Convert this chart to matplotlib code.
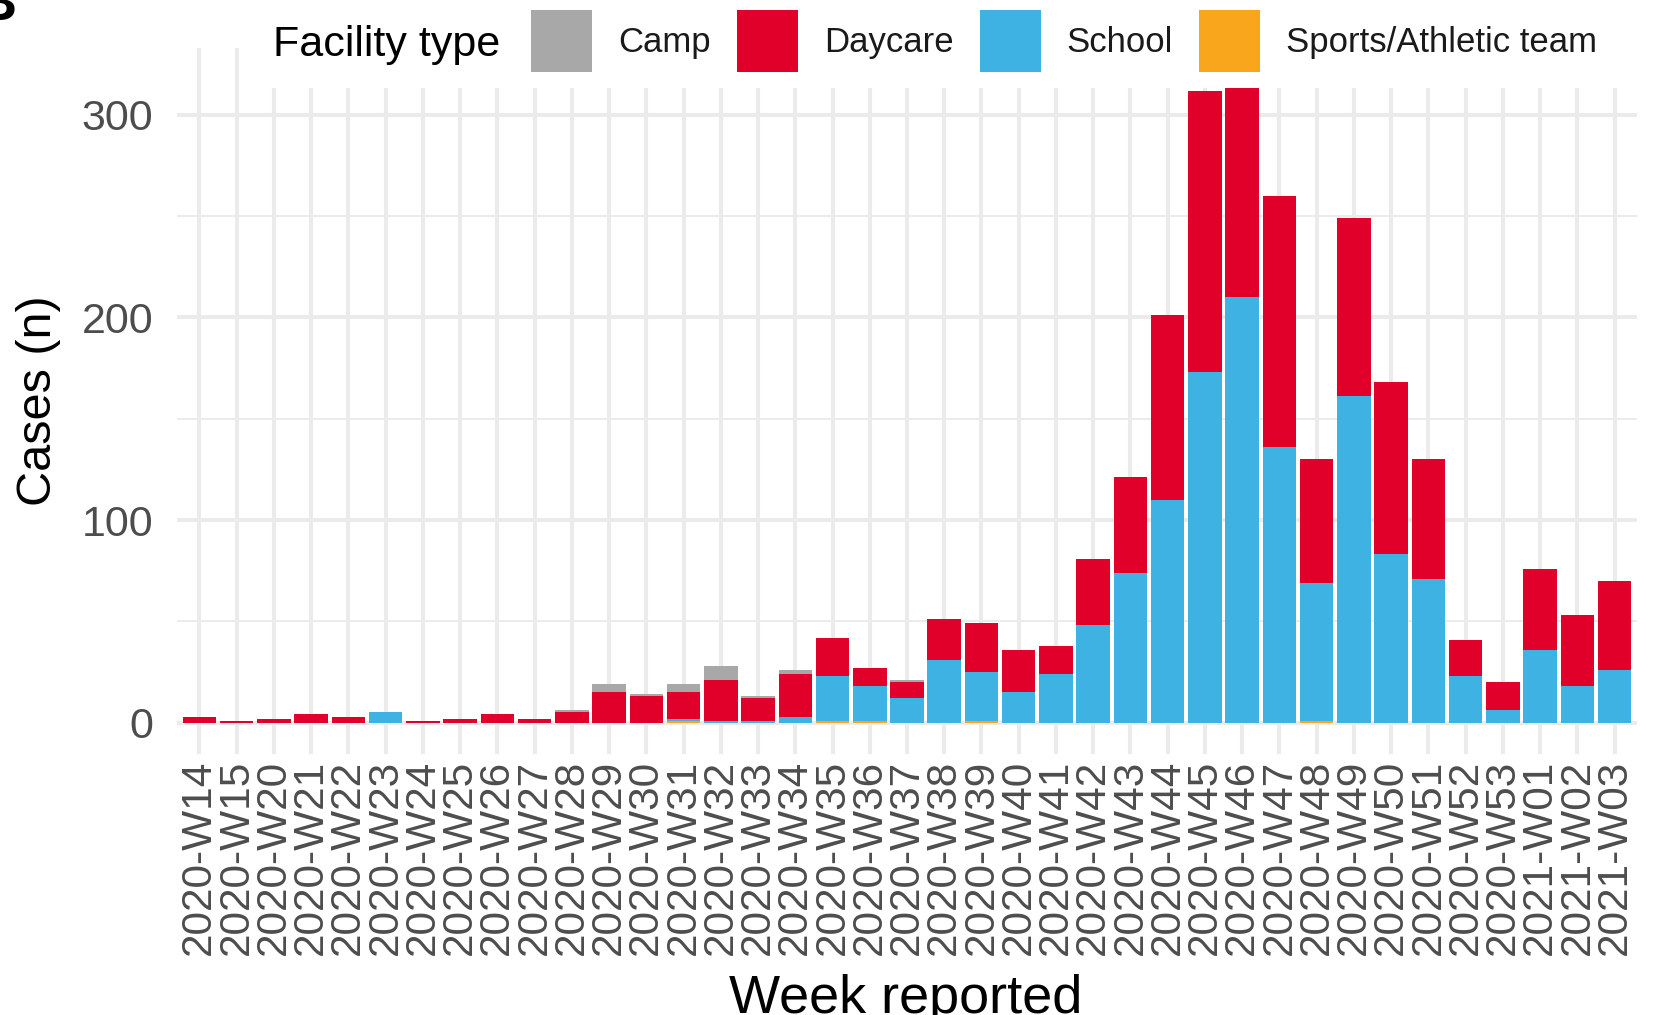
import numpy as np
import matplotlib
matplotlib.use("Agg")
import matplotlib.pyplot as plt
from matplotlib.patches import Patch, Rectangle

plt.rcParams['font.family'] = ['Liberation Sans', 'DejaVu Sans']

weeks = ['2020-W14', '2020-W15', '2020-W20', '2020-W21', '2020-W22', '2020-W23',
         '2020-W24', '2020-W25', '2020-W26', '2020-W27', '2020-W28', '2020-W29',
         '2020-W30', '2020-W31', '2020-W32', '2020-W33', '2020-W34', '2020-W35',
         '2020-W36', '2020-W37', '2020-W38', '2020-W39', '2020-W40', '2020-W41',
         '2020-W42', '2020-W43', '2020-W44', '2020-W45', '2020-W46', '2020-W47',
         '2020-W48', '2020-W49', '2020-W50', '2020-W51', '2020-W52', '2020-W53',
         '2021-W01', '2021-W02', '2021-W03']

# cases per facility type
sports = [0, 0, 0, 0, 0, 0, 0, 0, 0, 0, 0, 0, 0, 1, 0, 0, 0, 1, 1, 0,
          0, 1, 0, 0, 0, 0, 0, 0, 0, 0, 1, 0, 0, 0, 0, 0, 0, 0, 0]
school = [0, 0, 0, 0, 0, 5, 0, 0, 0, 0, 0, 0, 0, 1, 1, 1, 3, 22, 17, 12,
          31, 24, 15, 24, 48, 74, 110, 173, 210, 136, 68, 161, 83, 71, 23, 6, 36, 18, 26]
daycare = [3, 1, 2, 4, 3, 0, 1, 2, 4, 2, 5, 15, 13, 13, 20, 11, 21, 19, 9, 8,
           20, 24, 21, 14, 33, 47, 91, 139, 104, 124, 61, 88, 85, 59, 18, 14, 40, 35, 44]
camp = [0, 0, 0, 0, 0, 0, 0, 0, 0, 0, 1, 4, 1, 4, 7, 1, 2, 0, 0, 1,
        0, 0, 0, 0, 0, 0, 0, 0, 0, 0, 0, 0, 0, 0, 0, 0, 0, 0, 0]

facility = ['Camp', 'Daycare', 'School', 'Sports/Athletic team']
colors = {'Camp': '#A8A8A8', 'Daycare': '#E0002A', 'School': '#3DB2E3',
          'Sports/Athletic team': '#F9A61C'}

W, H = 1659, 1015
fig = plt.figure(figsize=(W / 100, H / 100), dpi=100)
ax = fig.add_axes([177 / W, 1 - 754 / H, 1460 / W, 706 / H])

x = np.arange(len(weeks))
bottom = np.zeros(len(weeks))
# stacked bottom to top: sports, school, daycare, camp
for name, vals in [('Sports/Athletic team', sports), ('School', school),
                   ('Daycare', daycare), ('Camp', camp)]:
    vals = np.array(vals, dtype=float)
    ax.bar(x, vals, width=0.9, bottom=bottom, color=colors[name], linewidth=0, zorder=3)
    bottom += vals

ax.set_xlim(-0.6, len(weeks) - 1 + 0.6)
ax.set_ylim(-15.5, 333)
ax.set_xticks(x)
ax.set_xticklabels(weeks, rotation=90, ha='center', va='top')
ax.set_yticks([0, 100, 200, 300])
ax.set_yticks([50, 150, 250], minor=True)

ax.tick_params(axis='x', length=0, pad=4.3, labelsize=30.5, colors='#4D4D4D')
ax.tick_params(axis='y', which='both', length=0, pad=17, labelsize=31, colors='#4D4D4D')

ax.grid(True, which='major', color='#EBEBEB', linewidth=2.9, zorder=0)
ax.grid(True, which='minor', axis='y', color='#EBEBEB', linewidth=1.4, zorder=0)
ax.set_axisbelow(True)
for s in ax.spines.values():
    s.set_visible(False)

# axis titles
fig.text(39 / W, 1 - 401 / H, 'Cases (n)', rotation=90, ha='center', va='center',
         fontsize=35, color='black')
fig.text(906 / W, 1 - 1013 / H, 'Week reported', ha='center', va='baseline',
         fontsize=39, color='black')

# legend area sits on top of the panel with a white background
fig.add_artist(Rectangle((255 / W, 1 - 88 / H), 1 - 255 / W, 88 / H,
                         transform=fig.transFigure, facecolor='white',
                         edgecolor='none', zorder=5))
fig.text(273 / W, 1 - 56 / H, 'Facility type', ha='left', va='baseline',
         fontsize=31, color='black', zorder=6)
handles = [Patch(facecolor=colors[f], edgecolor='none', label=f) for f in facility]
leg = fig.legend(handles=handles, ncol=4, loc='center left',
                 bbox_to_anchor=(531 / W, 1 - 41 / H), frameon=False, fontsize=25,
                 handlelength=1.76, handleheight=2.33, handletextpad=0.75,
                 columnspacing=0.75, borderpad=0, borderaxespad=0)
leg.set_zorder(6)
for t in leg.get_texts():
    t.set_color('#1A1A1A')

# cut-off panel letter in the corner
fig.text(16 / W, 1 - 20 / H, 'B', ha='right', va='baseline', fontsize=40,
         fontweight='bold', color='black')

fig.savefig('out.png', dpi=100)
